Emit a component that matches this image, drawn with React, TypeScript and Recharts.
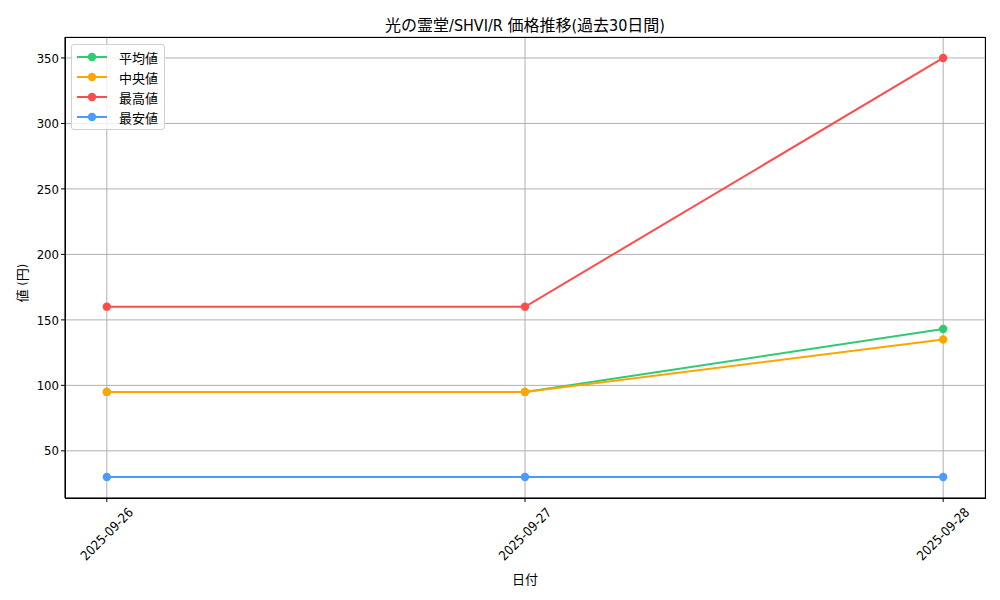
import React from 'react';
import { LineChart, Line, XAxis, YAxis, CartesianGrid, Legend } from 'recharts';

const dates = ['2025-09-26', '2025-09-27', '2025-09-28'];
const avgValues = [95, 95, 143];
const medianValues = [95, 95, 135];
const maxValues = [160, 160, 350];
const minValues = [30, 30, 30];
const yTicks = [50, 100, 150, 200, 250, 300, 350];

const series = [
    { key: 'avg', name: '平均値', color: '#2ecc71' },
    { key: 'median', name: '中央値', color: '#ffa500' },
    { key: 'max', name: '最高値', color: '#ff4b4b' },
    { key: 'min', name: '最安値', color: '#4b9bff' },
];

const data = dates.map((d, i) => ({
    x: i,
    avg: avgValues[i],
    median: medianValues[i],
    max: maxValues[i],
    min: minValues[i],
}));

const FONT = '"Liberation Sans Narrow", "DejaVu Sans Condensed", "Noto Sans CJK JP", sans-serif';

// matplotlib-style 45° label, centred under the tick
const RotatedTick = (props: any) => {
    const { x, y, payload } = props;
    const cy = y + 30;
    return (
        <text
            x={x}
            y={cy}
            textAnchor="middle"
            dominantBaseline="central"
            fontSize={13}
            fill="#000"
            fontFamily={FONT}
            transform={`rotate(-45, ${x}, ${cy})`}
        >
            {dates[payload.value]}
        </text>
    );
};

const LegendBox = () => (
    <div
        style={{
            background: 'rgba(255,255,255,0.8)',
            border: '1px solid #d0d0d0',
            borderRadius: 3,
            padding: '2px 6px 2px 5px',
            fontFamily: FONT,
            fontSize: 13,
        }}
    >
        {series.map((s) => (
            <div key={s.key} style={{ display: 'flex', alignItems: 'center', height: 20 }}>
                <svg width={30} height={12} style={{ marginRight: 12 }}>
                    <line x1={0} y1={6} x2={30} y2={6} stroke={s.color} strokeWidth={2} />
                    <circle cx={15} cy={6} r={4.2} fill={s.color} />
                </svg>
                <span>{s.name}</span>
            </div>
        ))}
    </div>
);

const App: React.FC = () => {
    return (
        <div style={{ position: 'absolute', left: 0, top: 0, width: 1000, height: 600, background: '#fff', fontFamily: FONT }}>
            <div style={{ position: 'absolute', top: 12, left: 65, width: 920, textAlign: 'center', fontSize: 16 }}>
                光の霊堂/SHVI/R 価格推移(過去30日間)
            </div>
            <div
                style={{
                    position: 'absolute',
                    left: 21,
                    top: 283,
                    transform: 'translate(-50%, -50%) rotate(-90deg)',
                    fontSize: 13,
                    whiteSpace: 'nowrap',
                }}
            >
                値 (円)
            </div>
            <div style={{ position: 'absolute', top: 569, left: 65, width: 920, textAlign: 'center', fontSize: 13 }}>
                日付
            </div>
            <LineChart width={1000} height={600} data={data} margin={{ top: 37, right: 15, left: 20, bottom: 22 }}>
                <CartesianGrid stroke="#b0b0b0" strokeWidth={1} />
                <XAxis
                    dataKey="x"
                    type="number"
                    domain={[-0.1, 2.1]}
                    ticks={[0, 1, 2]}
                    height={80}
                    tick={<RotatedTick />}
                    tickSize={4}
                    stroke="#000"
                    tickLine={{ stroke: '#000' }}
                />
                <YAxis
                    domain={[14, 366]}
                    ticks={yTicks}
                    width={45}
                    tickSize={4}
                    stroke="#000"
                    tick={{ fill: '#000', fontSize: 13, fontFamily: FONT }}
                    allowDataOverflow
                />
                <Legend
                    content={<LegendBox />}
                    layout="vertical"
                    verticalAlign="middle"
                    align="center"
                    wrapperStyle={{ top: 44, left: 71, width: 'auto' }}
                />
                {series.map((s) => (
                    <Line
                        key={s.key}
                        dataKey={s.key}
                        name={s.name}
                        stroke={s.color}
                        strokeWidth={2}
                        dot={{ r: 4.2, fill: s.color, stroke: s.color, strokeWidth: 0 }}
                        activeDot={false}
                        isAnimationActive={false}
                    />
                ))}
            </LineChart>
            {/* axes frame (top/right spines) */}
            <div
                style={{
                    position: 'absolute',
                    left: 65,
                    top: 37,
                    width: 921,
                    height: 462,
                    border: '1px solid #000',
                    boxSizing: 'border-box',
                    pointerEvents: 'none',
                }}
            />
        </div>
    );
};

export default App;
